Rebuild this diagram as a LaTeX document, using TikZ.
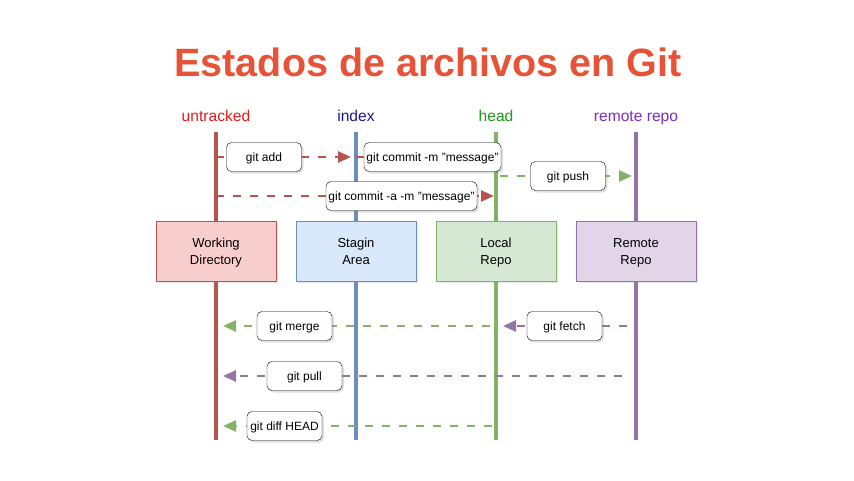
\documentclass[tikz,border=0pt]{standalone}
\usepackage{fontspec}
\setmainfont{Liberation Sans}
\usepackage{xcolor}
\usetikzlibrary{arrows.meta,shadows}

\begin{document}
\begin{tikzpicture}[x=1pt,y=-1pt,
  lanebox/.style={draw,minimum width=120pt,minimum height=60pt,align=center,
    font=\fontsize{13}{17}\selectfont,
    drop shadow={shadow xshift=2pt,shadow yshift=-2pt,opacity=.18}},
  cmdbox/.style={draw=black,fill=white,rounded corners=5pt,minimum width=75pt,
    minimum height=29pt,inner xsep=2.5pt,font=\fontsize{12}{14}\selectfont,
    drop shadow={shadow xshift=2pt,shadow yshift=-2pt,opacity=.25}},
  flow/.style={line width=2.5pt,dash pattern=on 8pt off 9pt,
    -{Triangle[length=13pt,width=11pt]}}]
\definecolor{titlered}{HTML}{E85237}
\definecolor{lnred}{HTML}{B85450}
\definecolor{flred}{HTML}{F8CECC}
\definecolor{tgred}{HTML}{E21B1B}
\definecolor{lnblue}{HTML}{6C8EBF}
\definecolor{flblue}{HTML}{DAE8FC}
\definecolor{tgblue}{HTML}{1A1A8C}
\definecolor{lngreen}{HTML}{82B366}
\definecolor{flgreen}{HTML}{D5E8D4}
\definecolor{tggreen}{HTML}{1A9A1A}
\definecolor{lnpurple}{HTML}{9673A6}
\definecolor{flpurple}{HTML}{E1D5E7}
\definecolor{tgpurple}{HTML}{7B2CC6}
\useasboundingbox (0,0) rectangle (854,480);
\node[text=titlered,font=\fontsize{39.5}{46}\selectfont\bfseries] (title) at (428,62) {Estados de archivos en Git};
% lanes
\foreach \nm/\pos/\crlr/\tag/\la/\lb in {wd/216/red/untracked/Working/Directory,
  sa/356/blue/index/Stagin/Area,lr/496/green/head/Local/Repo,rr/636/purple/remote repo/Remote/Repo}
{ \coordinate (\nm-top) at (\pos,132);
  \coordinate (\nm-bot) at (\pos,440);
  \node[anchor=base,text=tg\crlr,font=\fontsize{15.6}{18}\selectfont] (\nm-tag) at (\pos,121.5) {\tag};
  \draw[line width=4pt,ln\crlr] (\nm-top) -- (\nm-bot);
  \node[lanebox,draw=ln\crlr,fill=fl\crlr] (\nm) at (\pos,251) {\rule{0pt}{12.5pt}\la\\\rule[-3.1pt]{0pt}{3.1pt}\lb};}
% commands
\foreach \from/\to/\yy/\crlr/\sa/\sb/\bx/\nm/\txt in {
  wd/sa/157/red/0/5/264/add/git add,
  sa/lr/157/red/0/5/432.5/commitm/git commit -m "message",
  wd/lr/196/red/0/2/401.5/commita/git commit -a -m "message",
  lr/rr/176/green/4/4/568/push/git push,
  lr/wd/326/green/6/7/294.5/merge/git merge,
  rr/lr/326/purple/9/7/564.5/fetch/git fetch,
  rr/wd/376/purple/14/7/304.5/pull/git pull,
  lr/wd/426/green/4/7/284.5/diff/git diff HEAD}
{ \draw[flow,ln\crlr,shorten <=\sa pt,shorten >=\sb pt] (\from-top |- 0,\yy) -- (\to-top |- 0,\yy);
  \node[cmdbox] (\nm) at (\bx,\yy) {\rule[-4pt]{0pt}{16.6pt}\txt};}
\end{tikzpicture}
\end{document}
